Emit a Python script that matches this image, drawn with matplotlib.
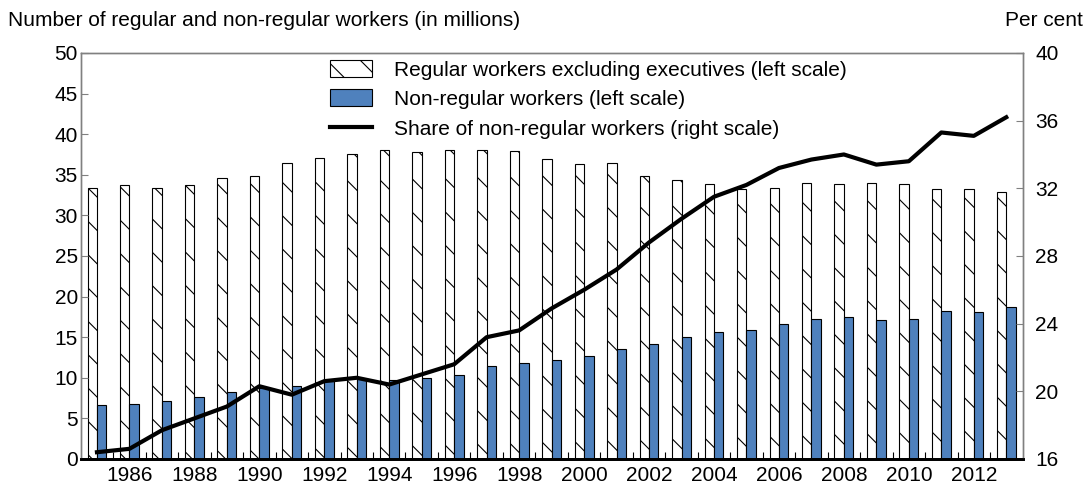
import numpy as np
import matplotlib
matplotlib.use("Agg")
import matplotlib.pyplot as plt
from matplotlib.ticker import FixedLocator, NullFormatter

plt.rcParams['font.family'] = ['Liberation Sans', 'DejaVu Sans']
plt.rcParams['hatch.linewidth'] = 0.8

#values
years = list(range(1985, 2014))
regular = [33.4, 33.8, 33.4, 33.7, 34.6, 34.9, 36.4, 37.1, 37.6, 38.1,
           37.8, 38.0, 38.1, 37.9, 36.9, 36.3, 36.4, 34.9, 34.4, 33.9,
           33.3, 33.4, 34.0, 33.9, 34.0, 33.9, 33.3, 33.3, 32.9]
non_regular = [6.6, 6.8, 7.1, 7.6, 8.2, 8.8, 9.0, 9.6, 9.9, 9.7,
               10.0, 10.4, 11.5, 11.8, 12.2, 12.7, 13.6, 14.1, 15.0, 15.6,
               15.9, 16.6, 17.3, 17.5, 17.1, 17.2, 18.2, 18.1, 18.75]
share = [16.4, 16.6, 17.7, 18.4, 19.1, 20.3, 19.8, 20.6, 20.8, 20.4,
         21.0, 21.6, 23.2, 23.6, 24.9, 26.0, 27.2, 28.8, 30.2, 31.5,
         32.2, 33.2, 33.7, 34.0, 33.4, 33.6, 35.3, 35.1, 36.2]

fs = 15
grey = '#808080'
x = np.arange(len(years))
w = 0.29

fig = plt.figure(figsize=(10.85, 4.86), dpi=100)
ax = fig.add_axes([0.0744, 0.0556, 0.868, 0.8354])
ax2 = ax.twinx()

b1 = ax.bar(x, regular, width=-w, align='edge', color='white',
            edgecolor='black', linewidth=0.8, hatch='\\',
            label='Regular workers excluding executives (left scale)')
b2 = ax.bar(x, non_regular, width=w, align='edge', color='#4F81BD',
            edgecolor='black', linewidth=0.8,
            label='Non-regular workers (left scale)')
l1, = ax2.plot(x, share, color='black', linewidth=3,
               label='Share of non-regular workers (right scale)')

ax.set_xlim(-0.5, len(years) - 0.5)
ax.set_ylim(0, 50)
ax.set_yticks(range(0, 51, 5))
ax2.set_ylim(16, 40)
ax2.set_yticks(range(16, 41, 4))

#year labels on even years, ticks between the years
lab_pos = [i for i, yr in enumerate(years) if yr % 2 == 0]
ax.set_xticks(lab_pos)
ax.set_xticklabels([str(years[i]) for i in lab_pos])
ax.xaxis.set_minor_locator(FixedLocator(np.arange(0.5, len(years) - 0.5, 1)))
ax.xaxis.set_minor_formatter(NullFormatter())
ax.tick_params(axis='x', which='major', length=0, labelsize=fs, pad=5)
ax.tick_params(axis='x', which='minor', direction='in', length=5,
               color='black', width=0.8)
ax.tick_params(axis='y', direction='in', length=5, color=grey,
               labelsize=fs, pad=2)
ax2.tick_params(axis='y', direction='in', length=5, color=grey,
                labelsize=fs, pad=9)

for a in (ax, ax2):
    for s in ('left', 'right', 'top'):
        a.spines[s].set_color(grey)
        a.spines[s].set_linewidth(1)
    a.spines['bottom'].set_color('black')
    a.spines['bottom'].set_linewidth(2)

fig.text(0.0075, 0.958, 'Number of regular and non-regular workers (in millions)',
         fontsize=fs, ha='left', va='center')
fig.text(0.998, 0.958, 'Per cent', fontsize=fs, ha='right', va='center')

fig.legend(handles=[b1, b2, l1], loc='upper left',
           bbox_to_anchor=(330 / 1085, 1 - 60 / 486), frameon=False,
           fontsize=fs, borderpad=0, handlelength=2.0, handleheight=0.87,
           handletextpad=1.05, labelspacing=0.47, borderaxespad=0)

fig.savefig('out.png', dpi=100)
